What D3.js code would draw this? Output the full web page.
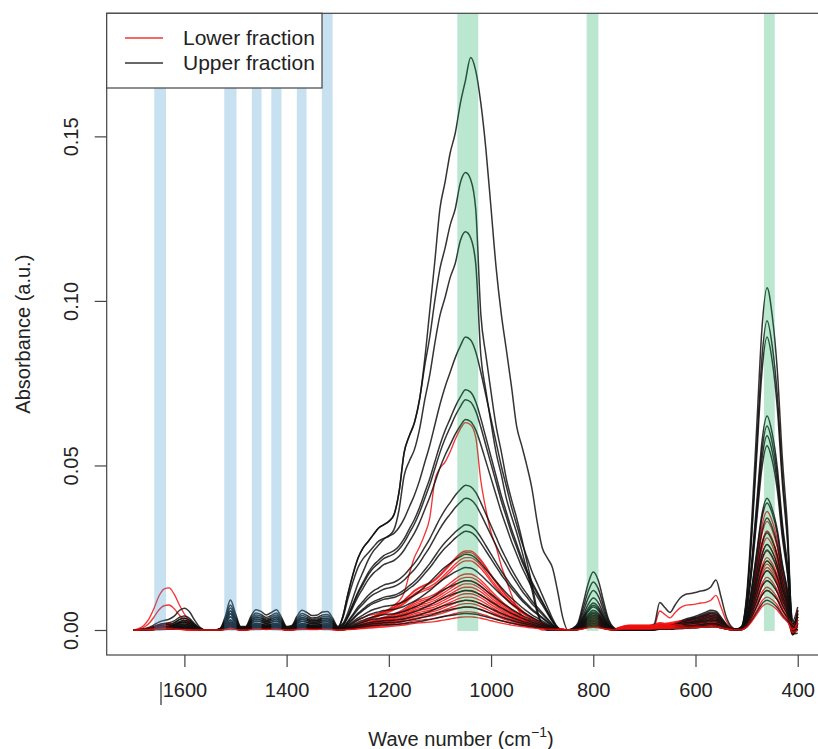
<!DOCTYPE html>
<html><head><meta charset="utf-8">
<script src="https://cdn.jsdelivr.net/npm/d3@7"></script>
<style>
body{margin:0;background:#fff}
svg{display:block}
text{font-family:"Liberation Sans",Arial,sans-serif;fill:#222}
</style>
</head><body>
<svg id="chart" width="818" height="749"></svg>
<script>
// ---------------- DATA ----------------
const waveStep = 10;
const waveGrid = d3.range(1700, 399, -waveStep);      // wave numbers (cm-1)
const xTicks = [1600, 1400, 1200, 1000, 800, 600, 400];
const yTicks = [0, 0.05, 0.10, 0.15];
const yTickLabels = ["0.00", "0.05", "0.10", "0.15"];
const blueBands = [[1659, 1636], [1522, 1498], [1468, 1449], [1430, 1410], [1380, 1361], [1331, 1310]];
const greenBands = [[1066, 1025], [813, 790], [466, 445]];
const legendLabels = ["Lower fraction", "Upper fraction"];

// band shapes (step 10 cm-1, first value at the given start)
const shape1640 = [0, 0.03, 0.10, 0.25, 0.50, 0.80, 0.97, 1.0, 0.85, 0.60, 0.38, 0.20, 0.08, 0.02, 0];           // 1700..1560
const shape1600 = [0, 0.05, 0.30, 0.75, 1.0, 0.90, 0.50, 0.15, 0];                                              // 1640..1560
const shape1510 = [0, 0.05, 0.45, 1.0, 0.55, 0.12, 0.12, 0.45, 0.68, 0.62, 0.50, 0.58, 0.68, 0.42, 0.12, 0.15,
                   0.45, 0.66, 0.58, 0.48, 0.50, 0.60, 0.62, 0.40, 0.12, 0.02];                                   // 1540..1290
const shapeSiBroad = [0.000,0.023,0.063,0.098,0.126,0.144,0.155,0.167,0.178,0.184,0.190,0.201,0.241,0.310,0.339,0.362,
                      0.402,0.471,0.557,0.644,0.736,0.782,0.833,0.868,0.920,0.960,1.000,0.977,0.920,0.839,0.736,0.632,
                      0.552,0.489,0.425,0.356,0.322,0.287,0.247,0.190,0.144,0.126,0.109,0.069,0.023,0.000];        // 1300..850
const shapeSiNarrow = [0,0.029,0.079,0.122,0.158,0.180,0.194,0.209,0.223,0.230,0.237,0.252,0.302,0.388,0.424,0.453,
                       0.504,0.576,0.640,0.720,0.790,0.835,0.885,0.921,0.978,1.000,0.985,0.920,0.690,0.600,0.520,0.445,
                       0.390,0.330,0.285,0.245,0.200,0.150,0.100,0.045,0.012,0,0,0,0,0];
const shapeSiMid = [0,0.02,0.06,0.11,0.16,0.20,0.24,0.27,0.29,0.31,0.32,0.33,0.35,0.38,0.42,0.46,
                    0.51,0.57,0.63,0.70,0.77,0.83,0.88,0.93,0.97,1.00,0.99,0.95,0.88,0.80,0.72,0.64,
                    0.56,0.49,0.42,0.36,0.30,0.25,0.20,0.16,0.12,0.08,0.04,0.01,0,0];
const shapeSiRedBig = [0,0.01,0.02,0.035,0.05,0.06,0.07,0.075,0.08,0.09,0.10,0.12,0.14,0.18,0.27,0.35,
                       0.40,0.46,0.54,0.72,0.78,0.81,0.86,0.92,0.97,1.00,0.99,0.93,0.72,0.58,0.47,0.40,
                       0.31,0.24,0.17,0.11,0.07,0.04,0.02,0.01,0,0,0,0,0,0];
const shapeSiRed = [0,0.01,0.03,0.05,0.08,0.11,0.14,0.17,0.20,0.23,0.26,0.29,0.33,0.38,0.44,0.50,
                    0.54,0.57,0.60,0.64,0.70,0.77,0.84,0.91,0.97,1.00,1.00,0.96,0.89,0.80,0.70,0.61,
                    0.52,0.44,0.37,0.31,0.25,0.20,0.16,0.12,0.09,0.06,0.04,0.02,0.01,0];
const shape800 = [0, 0.03, 0.12, 0.45, 0.80, 1.0, 0.85, 0.50, 0.18, 0.04, 0];                                   // 850..750
const shape600Top = [0,0,0,0,0,0.01,0.03,0.13,0.55,0.45,0.35,0.50,0.64,0.71,0.73,0.75,0.78,0.80,0.86,1.00,0.66,0.27,0.07,0]; // 750..520
const shape600 = [0,0,0,0,0,0,0.02,0.08,0.25,0.22,0.25,0.35,0.45,0.55,0.62,0.70,0.80,0.90,1.0,0.95,0.65,0.30,0.08,0];      // 750..520
const shape600Red = [0.15,0.25,0.30,0.30,0.30,0.30,0.30,0.35,0.45,0.40,0.45,0.50,0.55,0.60,0.65,0.72,0.80,0.90,1.0,0.95,0.65,0.30,0.08,0]; // 750..520
const shape460 = [0, 0.003, 0.01, 0.10, 0.32, 0.60, 0.88, 1.0, 0.92, 0.76, 0.50, 0.30, 0.03];                    // 530..410

// Upper fraction (black) amplitudes
const blackSi    = [0.174,0.139,0.121,0.089,0.073,0.070,0.064,0.044,0.040,0.032,0.030,0.023,0.019,0.015,0.012,0.009,0.007,0.005];
const blackShape = ["broad","narrow","narrow","mid","mid","mid","mid","mid","mid","mid","mid","mid","mid","mid","mid","mid","mid","mid"];
const black1640  = [0.0015,0.001,0.001,0.003,0.002,0.0015,0.001,0.001,0.001,0.0008,0.0008,0.0006,0.0005,0.0005,0.0004,0.0003,0.0003,0.0002];
const black1600  = [0.003,0.0025,0.002,0.0055,0.0035,0.003,0.0025,0.002,0.002,0.0015,0.0015,0.0012,0.001,0.001,0.0008,0.0006,0.0005,0.0004];
const black1510  = [0.0058,0.0049,0.0067,0.0091,0.0076,0.004,0.0049,0.003,0.0058,0.0024,0.004,0.003,0.0024,0.002,0.0018,0.0015,0.0012,0.001];
const black800   = [0.0176,0.0146,0.012,0.0097,0.0082,0.0075,0.007,0.006,0.0055,0.005,0.0045,0.004,0.0035,0.003,0.0025,0.002,0.0015,0.001];
const black600   = [0.006,0.005,0.0055,0,0.0045,0.004,0.005,0.004,0.0035,0.003,0.003,0.0025,0.002,0.002,0.0015,0.0015,0.001,0.001];
const black600Top= [0,0,0,0.0152,0,0,0,0,0,0,0,0,0,0,0,0,0,0];
const black460   = [0.104,0.094,0.089,0.065,0.062,0.059,0.056,0.040,0.0386,0.034,0.0295,0.026,0.0243,0.021,0.018,0.015,0.012,0.009];
const black410   = [-0.003,-0.004,0.000,-0.002,0.001,-0.003,-0.001,0.000,-0.002,-0.001,0.001,-0.002,0.000,0.001,-0.001,-0.002,0.000,0.001];
const black400   = [0.006,0.002,0.007,0.004,0.001,0.005,0.003,0.000,0.006,0.002,0.004,-0.001,0.003,0.005,0.001,0.002,0.004,0.000];

// Lower fraction (red) amplitudes
const redSi    = [0.063,0.024,0.0235,0.022,0.021,0.017,0.016,0.015,0.014,0.013,0.012,0.011,0.010,0.009,0.008,0.007,0.0055,0.004];
const redShape = ["redBig","red","red","red","red","red","red","red","red","red","red","red","red","red","red","red","red","red"];
const red1640  = [0.002,0.0128,0.0076,0.002,0.0015,0.0012,0.001,0.001,0.0008,0.0008,0.0006,0.0006,0.0005,0.0005,0.0004,0.0004,0.0003,0.0003];
const red1510  = [0.002,0.0015,0.0012,0.0015,0.001,0.001,0.0012,0.0008,0.001,0.0008,0.0006,0.0008,0.0006,0.0005,0.0005,0.0004,0.0004,0.0003];
const red800   = [0.004,0.005,0.0045,0.004,0.0035,0.003,0.003,0.0028,0.0025,0.0022,0.002,0.002,0.0018,0.0015,0.0012,0.001,0.001,0.0008];
const red600   = [0,0.005,0.004,0.0045,0.0035,0.004,0.003,0.003,0.0025,0.0028,0.002,0.0022,0.0018,0.0015,0.0015,0.0012,0.001,0.001];
const red600Top= [0.0105,0,0,0,0,0,0,0,0,0,0,0,0,0,0,0,0,0];
const red460   = [0.030,0.036,0.033,0.030,0.028,0.026,0.024,0.022,0.021,0.020,0.019,0.018,0.016,0.015,0.013,0.012,0.010,0.008];
const red410   = [-0.001,-0.002,0.000,-0.001,0.001,-0.002,0.000,0.001,-0.001,0.000,-0.002,0.001,0.000,-0.001,0.001,0.000,-0.001,0.000];
const red400   = [0.003,0.005,0.001,0.004,0.002,0.000,0.006,0.002,0.003,0.001,0.004,0.002,0.000,0.003,0.001,0.002,0.000,0.001];

// ---------------- BUILD SPECTRA ----------------
const siShapes = {broad: shapeSiBroad, narrow: shapeSiNarrow, mid: shapeSiMid, redBig: shapeSiRedBig, red: shapeSiRed};
function addShape(vals, shape, start, amp) {
  shape.forEach((s, k) => {
    const w = start - k * waveStep;
    const i = waveGrid.indexOf(w);
    if (i >= 0) vals[i] += s * amp;
  });
}
function buildSpectrum(p) {
  const vals = waveGrid.map(() => 0);
  addShape(vals, shape1640, 1700, p.a1640);
  addShape(vals, shape1600, 1640, p.a1600);
  addShape(vals, shape1510, 1540, p.a1510);
  addShape(vals, siShapes[p.shape], 1300, p.si);
  addShape(vals, shape800, 850, p.a800);
  addShape(vals, p.red ? shape600Red : shape600, 750, p.a600);
  addShape(vals, shape600Top, 750, p.a600Top);
  addShape(vals, shape460, 530, p.a460);
  vals[waveGrid.indexOf(410)] += p.e410;
  vals[waveGrid.indexOf(400)] += p.e400;
  return {group: p.red ? "red" : "black", pts: waveGrid.map((w, i) => ({w, v: vals[i]}))};
}
const redSpectra = redSi.map((s, i) => buildSpectrum({red: true, si: s, shape: redShape[i], a1640: red1640[i], a1600: 0,
  a1510: red1510[i], a800: red800[i], a600: red600[i], a600Top: red600Top[i], a460: red460[i], e410: red410[i], e400: red400[i]}));
const blackSpectra = blackSi.map((s, i) => buildSpectrum({red: false, si: s, shape: blackShape[i], a1640: black1640[i], a1600: black1600[i],
  a1510: black1510[i], a800: black800[i], a600: black600[i], a600Top: black600Top[i], a460: black460[i], e410: black410[i], e400: black400[i]}));
// samples are drawn interleaved (as in the original plotting order)
const allSpectra = [];
redSpectra.forEach((r, i) => { allSpectra.push(blackSpectra[i]); allSpectra.push(r); });

// ---------------- DRAW ----------------
const svg = d3.select("#chart");
const frame = {left: 106.7, right: 824.3, top: 13.3, bottom: 655};
const x = d3.scaleLinear().domain([1752, 348]).range([frame.left, frame.right]);
const y = d3.scaleLinear().domain([-0.0076, 0.1874]).range([frame.bottom, frame.top]);
const colors = {red: "#f01010", black: "#111"};

const line = d3.line().x(d => x(d.w)).y(d => y(d.v)).curve(d3.curveMonotoneX);
svg.append("g").selectAll("path").data(allSpectra).join("path")
  .attr("d", d => line(d.pts)).attr("fill", "none")
  .attr("stroke", d => colors[d.group]).attr("stroke-opacity", 0.85)
  .attr("stroke-width", d => d.group === "red" ? 1.35 : 1.5);

// shaded bands (transparent, drawn over the spectra)
const bandTop = frame.top, bandBottom = y(-0.0003);
svg.append("g").selectAll("rect").data(blueBands).join("rect")
  .attr("x", d => x(d[0])).attr("width", d => x(d[1]) - x(d[0]))
  .attr("y", bandTop).attr("height", bandBottom - bandTop)
  .attr("fill", "#4a9bd0").attr("fill-opacity", 0.3);
svg.append("g").selectAll("rect").data(greenBands).join("rect")
  .attr("x", d => x(d[0])).attr("width", d => x(d[1]) - x(d[0]))
  .attr("y", bandTop).attr("height", bandBottom - bandTop)
  .attr("fill", "#02a852").attr("fill-opacity", 0.27);

// frame
svg.append("rect").attr("x", frame.left).attr("y", frame.top)
  .attr("width", frame.right - frame.left).attr("height", frame.bottom - frame.top)
  .attr("fill", "none").attr("stroke", "#444").attr("stroke-width", 1.2);

// x axis
const xAxis = d3.axisBottom(x).tickValues(xTicks).tickSize(12).tickPadding(16).tickFormat(d3.format("d"));
const gx = svg.append("g").attr("transform", `translate(0,${frame.bottom})`).call(xAxis);
gx.select(".domain").remove();
gx.selectAll(".tick line").attr("stroke", "#444").attr("stroke-width", 1.2);
gx.selectAll(".tick text").attr("font-size", 20).attr("fill", "#222")
  .attr("font-family", "Liberation Sans, Arial, sans-serif");
// small vertical mark before 1600 label (present in the reference)
svg.append("line").attr("x1", 161).attr("x2", 161).attr("y1", 682).attr("y2", 705)
  .attr("stroke", "#555").attr("stroke-width", 1.5);

// y axis
const yAxis = d3.axisLeft(y).tickValues(yTicks).tickSize(12).tickFormat((d, i) => yTickLabels[i]);
const gy = svg.append("g").attr("transform", `translate(${frame.left},0)`).call(yAxis);
gy.select(".domain").remove();
gy.selectAll(".tick line").attr("stroke", "#444").attr("stroke-width", 1.2);
gy.selectAll(".tick text").attr("font-size", 20).attr("fill", "#222")
  .attr("font-family", "Liberation Sans, Arial, sans-serif")
  .attr("text-anchor", "middle").attr("x", 0).attr("dy", 0)
  .attr("transform", "translate(-29,0) rotate(-90)");

// axis titles
const xt = svg.append("text").attr("x", 461).attr("y", 746).attr("text-anchor", "middle").attr("font-size", 20);
xt.append("tspan").text("Wave number (cm");
xt.append("tspan").text("\u22121").attr("font-size", 14).attr("dy", -9);
xt.append("tspan").text(")").attr("dy", 9);
svg.append("text").attr("transform", `translate(30,${(frame.top + frame.bottom) / 2}) rotate(-90)`)
  .attr("text-anchor", "middle").attr("font-size", 20).text("Absorbance (a.u.)");

// legend
const lg = svg.append("g");
lg.append("rect").attr("x", frame.left).attr("y", frame.top).attr("width", 322 - frame.left).attr("height", 88 - frame.top)
  .attr("fill", "#fff").attr("stroke", "#444").attr("stroke-width", 1.2);
const legendColors = ["#f01010", "#111"];
legendLabels.forEach((t, i) => {
  const ly = 38 + i * 25;
  lg.append("line").attr("x1", 125).attr("x2", 163).attr("y1", ly).attr("y2", ly)
    .attr("stroke", legendColors[i]).attr("stroke-width", 1.3).attr("stroke-opacity", 0.85);
  lg.append("text").attr("x", 183).attr("y", ly + 7).attr("font-size", 21).text(t);
});
</script>
</body></html>
